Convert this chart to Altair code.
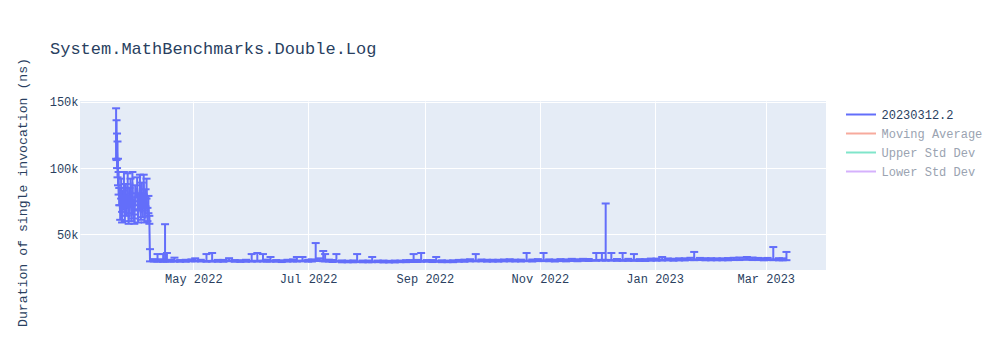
import altair as alt
import pandas as pd

series_name = "20230312.2"
legend_names = ["20230312.2", "Moving Average", "Upper Std Dev", "Lower Std Dev"]
legend_colors = ["#636efa", "#F7AA9D", "#80E5CA", "#D5B1FC"]

dates = [
    "2022-03-21T00:00:00", "2022-03-21T06:00:00", "2022-03-21T12:00:00", "2022-03-21T18:00:00",
    "2022-03-22T00:00:00", "2022-03-22T08:00:00", "2022-03-22T16:00:00", "2022-03-23T04:00:00",
    "2022-03-23T16:00:00", "2022-03-24T04:00:00", "2022-03-24T16:00:00", "2022-03-25T04:00:00",
    "2022-03-25T16:00:00", "2022-03-26T04:00:00", "2022-03-26T16:00:00", "2022-03-27T04:00:00",
    "2022-03-27T16:00:00", "2022-03-28T04:00:00", "2022-03-28T16:00:00", "2022-03-29T04:00:00",
    "2022-03-29T16:00:00", "2022-03-30T04:00:00", "2022-03-30T16:00:00", "2022-03-31T04:00:00",
    "2022-04-01T04:00:00", "2022-04-01T16:00:00", "2022-04-02T04:00:00", "2022-04-02T16:00:00",
    "2022-04-03T04:00:00", "2022-04-03T16:00:00", "2022-04-04T04:00:00", "2022-04-04T16:00:00",
    "2022-04-05T04:00:00", "2022-04-05T16:00:00", "2022-04-06T04:00:00", "2022-04-06T16:00:00",
    "2022-04-07T04:00:00", "2022-04-07T16:00:00",
    "2022-04-08T00:00:00", "2022-04-10T00:00:00", "2022-04-12T00:00:00", "2022-04-14T00:00:00",
    "2022-04-15T00:00:00", "2022-04-16T00:00:00", "2022-04-17T00:00:00", "2022-04-19T00:00:00",
    "2022-04-21T00:00:00", "2022-04-24T00:00:00", "2022-04-27T00:00:00", "2022-04-30T00:00:00",
    "2022-05-02T00:00:00", "2022-05-05T00:00:00", "2022-05-08T00:00:00", "2022-05-11T00:00:00",
    "2022-05-14T00:00:00", "2022-05-17T00:00:00", "2022-05-20T00:00:00", "2022-05-23T00:00:00",
    "2022-05-26T00:00:00", "2022-05-29T00:00:00", "2022-06-01T00:00:00", "2022-06-04T00:00:00",
    "2022-06-07T00:00:00", "2022-06-09T00:00:00", "2022-06-11T00:00:00", "2022-06-14T00:00:00",
    "2022-06-17T00:00:00", "2022-06-20T00:00:00", "2022-06-23T00:00:00", "2022-06-25T00:00:00",
    "2022-06-28T00:00:00", "2022-07-01T00:00:00", "2022-07-03T00:00:00", "2022-07-05T00:00:00",
    "2022-07-07T00:00:00", "2022-07-09T00:00:00", "2022-07-10T00:00:00", "2022-07-12T00:00:00",
    "2022-07-14T00:00:00", "2022-07-16T00:00:00", "2022-07-19T00:00:00", "2022-07-22T00:00:00",
    "2022-07-25T00:00:00", "2022-07-27T00:00:00", "2022-07-30T00:00:00", "2022-08-02T00:00:00",
    "2022-08-04T00:00:00", "2022-08-07T00:00:00", "2022-08-10T00:00:00", "2022-08-13T00:00:00",
    "2022-08-16T00:00:00", "2022-08-19T00:00:00", "2022-08-22T00:00:00", "2022-08-24T00:00:00",
    "2022-08-26T00:00:00", "2022-08-28T00:00:00", "2022-08-30T00:00:00", "2022-09-02T00:00:00",
    "2022-09-05T00:00:00", "2022-09-07T00:00:00", "2022-09-10T00:00:00", "2022-09-13T00:00:00",
    "2022-09-16T00:00:00", "2022-09-19T00:00:00", "2022-09-22T00:00:00", "2022-09-25T00:00:00",
    "2022-09-28T00:00:00", "2022-10-01T00:00:00", "2022-10-04T00:00:00", "2022-10-07T00:00:00",
    "2022-10-10T00:00:00", "2022-10-13T00:00:00", "2022-10-16T00:00:00", "2022-10-19T00:00:00",
    "2022-10-22T00:00:00", "2022-10-25T00:00:00", "2022-10-28T00:00:00", "2022-10-31T00:00:00",
    "2022-11-03T00:00:00", "2022-11-06T00:00:00", "2022-11-09T00:00:00", "2022-11-12T00:00:00",
    "2022-11-15T00:00:00", "2022-11-18T00:00:00", "2022-11-21T00:00:00", "2022-11-24T00:00:00",
    "2022-11-27T00:00:00", "2022-12-01T00:00:00", "2022-12-04T00:00:00", "2022-12-06T00:00:00",
    "2022-12-09T00:00:00", "2022-12-12T00:00:00", "2022-12-15T00:00:00", "2022-12-18T00:00:00",
    "2022-12-21T00:00:00", "2022-12-24T00:00:00", "2022-12-27T00:00:00", "2022-12-30T00:00:00",
    "2023-01-02T00:00:00", "2023-01-05T00:00:00", "2023-01-08T00:00:00", "2023-01-11T00:00:00",
    "2023-01-14T00:00:00", "2023-01-17T00:00:00", "2023-01-20T00:00:00", "2023-01-22T00:00:00",
    "2023-01-25T00:00:00", "2023-01-28T00:00:00", "2023-01-31T00:00:00", "2023-02-03T00:00:00",
    "2023-02-06T00:00:00", "2023-02-09T00:00:00", "2023-02-12T00:00:00", "2023-02-15T00:00:00",
    "2023-02-19T00:00:00", "2023-02-22T00:00:00", "2023-02-25T00:00:00", "2023-02-28T00:00:00",
    "2023-03-02T00:00:00", "2023-03-05T00:00:00", "2023-03-08T00:00:00", "2023-03-10T00:00:00",
    "2023-03-12T00:00:00",
]

values = [
    125000, 120000, 112000, 105000, 97000, 88000, 78000, 66000,
    84000, 62000, 75000, 88000, 64000, 80000, 70000, 86000,
    61000, 77000, 83000, 65000, 89000, 68000, 60000, 79000,
    85000, 63000, 74000, 87000, 66000, 81000, 69000, 88000,
    62000, 76000, 84000, 64000, 72000, 60000,
    30500, 30200, 30100, 30300, 30000, 30400, 30200, 30000,
    30100, 29900, 30000, 30200, 30400, 30100, 30000, 30200,
    29900, 30000, 30300, 30000, 29800, 30000, 30200, 30100,
    30300, 30000, 30100, 29900, 29800, 30000, 30200, 30100,
    30300, 30000, 30200, 31000, 30600, 30500, 30300, 30100,
    29900, 30000, 29600, 29500, 29600, 29700, 29600, 29500,
    29700, 29600, 29500, 29400, 29500, 29600, 29700, 29800,
    29900, 29800, 30000, 29900, 29800, 29900, 29700, 29600,
    29700, 29900, 30000, 30200, 30300, 30200, 30100, 30000,
    30100, 30200, 30300, 30100, 30200, 30300, 30200, 30400,
    30500, 30300, 30200, 30400, 30300, 30500, 30400, 30600,
    30500, 30800, 30900, 31000, 30800, 30600, 30700, 30600,
    30700, 30500, 30600, 30700, 30800, 31000, 30900, 30800,
    30900, 31000, 31200, 31300, 31200, 31100, 31000, 31100,
    31000, 31100, 31200, 31300, 31400, 31300, 31200, 31100,
    31200, 31300, 31100, 31000, 31200,
]

err_minus = [
    18000, 14000, 12000, 12000, 10000, 8000, 6000, 5000,
    7000, 3000, 6000, 8000, 4000, 7000, 6000, 8000,
    3000, 6000, 7000, 5000, 8000, 6000, 2000, 7000,
    7000, 4000, 6000, 7000, 5000, 6000, 6000, 8000,
    3000, 6000, 7000, 4000, 6000, 2000,
    800, 600, 700, 500, 600, 700, 600, 500,
    600, 500, 600, 500, 700, 500, 600, 700,
    500, 600, 500, 600, 500, 600, 700, 600,
    700, 500, 600, 500, 600, 500, 600, 500,
    600, 500, 600, 800, 600, 700, 600, 500,
    600, 500, 600, 500, 600, 500, 600, 500,
    600, 500, 600, 500, 600, 500, 600, 500,
    600, 500, 600, 500, 600, 500, 600, 500,
    600, 500, 600, 500, 600, 500, 600, 500,
    600, 500, 600, 500, 600, 500, 600, 500,
    600, 500, 600, 500, 600, 500, 600, 500,
    600, 700, 600, 800, 600, 500, 600, 500,
    600, 500, 600, 500, 600, 700, 500, 600,
    500, 600, 500, 700, 500, 600, 500, 600,
    500, 600, 500, 600, 500, 600, 500, 600,
    500, 700, 600, 500, 600,
]

err_plus = [
    20000, 16000, 14000, 15000, 10000, 9000, 7000, 6000,
    8000, 5000, 8000, 9000, 6000, 8000, 7000, 10000,
    5000, 8000, 9000, 6000, 8000, 7000, 5000, 8000,
    8000, 6000, 7000, 8000, 6000, 8000, 7000, 7000,
    6000, 8000, 8000, 6000, 7000, 4000,
    8400, 1200, 5100, 1000, 5200, 27300, 5800, 900,
    2400, 800, 900, 1000, 1600, 800, 5200, 5800,
    900, 800, 1800, 700, 800, 900, 5000, 5900,
    4900, 1000, 2900, 800, 700, 900, 1000, 2900,
    2700, 900, 1000, 12500, 1400, 7000, 4900, 900,
    800, 5200, 800, 700, 800, 5500, 700, 800,
    3300, 700, 800, 700, 800, 700, 900, 900,
    5300, 1000, 6000, 800, 900, 3100, 800, 700,
    800, 900, 1000, 1100, 4900, 900, 800, 900,
    800, 900, 1000, 900, 800, 5700, 900, 1000,
    5500, 900, 800, 1000, 900, 1100, 900, 1000,
    900, 5200, 5100, 42300, 5200, 900, 5300, 1000,
    4500, 900, 800, 1100, 1000, 2000, 1000, 900,
    1100, 1000, 1200, 5500, 1100, 1000, 1100, 900,
    1000, 1100, 1200, 1300, 1600, 1300, 1100, 1000,
    1100, 9200, 1000, 1000, 5600,
]

x_tick_dates = ["2022-05-01T00:00:00", "2022-07-01T00:00:00", "2022-09-01T00:00:00",
                "2022-11-01T00:00:00", "2023-01-01T00:00:00", "2023-03-01T00:00:00"]
y_ticks = [50000, 100000, 150000]

df = pd.DataFrame({
    "date": dates,
    "value": values,
    "lo": [v - m for v, m in zip(values, err_minus)],
    "hi": [v + p for v, p in zip(values, err_plus)],
    "series": [series_name] * len(dates),
})

FONT = "Liberation Mono"
TXT = "#2a3f5f"
BLUE = "#636efa"

x_scale = alt.Scale(domain=[alt.DateTime(year=2022, month=3, date=1, hours=20),
                            alt.DateTime(year=2023, month=4, date=2)])
y_scale = alt.Scale(domain=[23200, 150500], nice=False, zero=False)

x_axis = alt.Axis(
    title=None, format="%b %Y", labelFont=FONT, labelFontSize=12, labelColor=TXT,
    values=[alt.DateTime(year=int(d[:4]), month=int(d[5:7]), date=1) for d in x_tick_dates],
    grid=True, gridColor="white", gridWidth=1, ticks=False, domain=False, labelPadding=3,
)
y_axis = alt.Axis(
    title="Duration of single invocation (ns)", format="~s", values=y_ticks,
    labelFont=FONT, labelFontSize=12, labelColor=TXT, labelPadding=2,
    grid=True, gridColor="white", gridWidth=1, ticks=False, domain=False,
    titleFont=FONT, titleFontSize=13.2, titleFontWeight="normal", titleColor=TXT,
    titleX=-58, titleY=91, titleAlign="center", titleBaseline="middle", titleAngle=270,
)

base = alt.Chart(df)

line = base.mark_line(strokeWidth=2).encode(
    x=alt.X("date:T", scale=x_scale, axis=x_axis),
    y=alt.Y("value:Q", scale=y_scale, axis=y_axis),
    color=alt.Color(
        "series:N",
        scale=alt.Scale(domain=legend_names, range=legend_colors),
        legend=alt.Legend(
            title=None, orient="none", legendX=766, legendY=5, padding=0,
            symbolType="M-2,0H2", symbolSize=225, symbolStrokeWidth=2, symbolOffset=6.5,
            labelOffset=12, rowPadding=4, labelFont=FONT, labelFontSize=12,
            labelColor=alt.ExprRef("datum.label == '20230312.2' ? '#2a3f5f' : '#9aa3b1'"),
        ),
    ),
)

bars = base.mark_rule(strokeWidth=2, color=BLUE).encode(
    x="date:T", y="lo:Q", y2="hi:Q"
)
cap_hi = base.mark_tick(orient="horizontal", size=8, thickness=2, color=BLUE, opacity=1).encode(
    x="date:T", y="hi:Q"
)
cap_lo = base.mark_tick(orient="horizontal", size=8, thickness=2, color=BLUE, opacity=1).encode(
    x="date:T", y="lo:Q"
)

chart = alt.layer(bars, cap_hi, cap_lo, line).properties(
    width=746, height=169,
    autosize=alt.AutoSizeParams(type="none"),
    padding={"left": 80, "top": 101, "right": 174, "bottom": 80},
    background="white",
    title=alt.Title(
        "System.MathBenchmarks.Double.Log", anchor="start", frame="group", dx=-30, dy=22,
        font=FONT, fontSize=17, fontWeight="normal", color=TXT, offset=8,
        baseline="alphabetic",
    ),
).configure_view(fill="#E5ECF6", stroke=None)

chart.save("out.html", embed_options={"renderer": "svg", "actions": False})
